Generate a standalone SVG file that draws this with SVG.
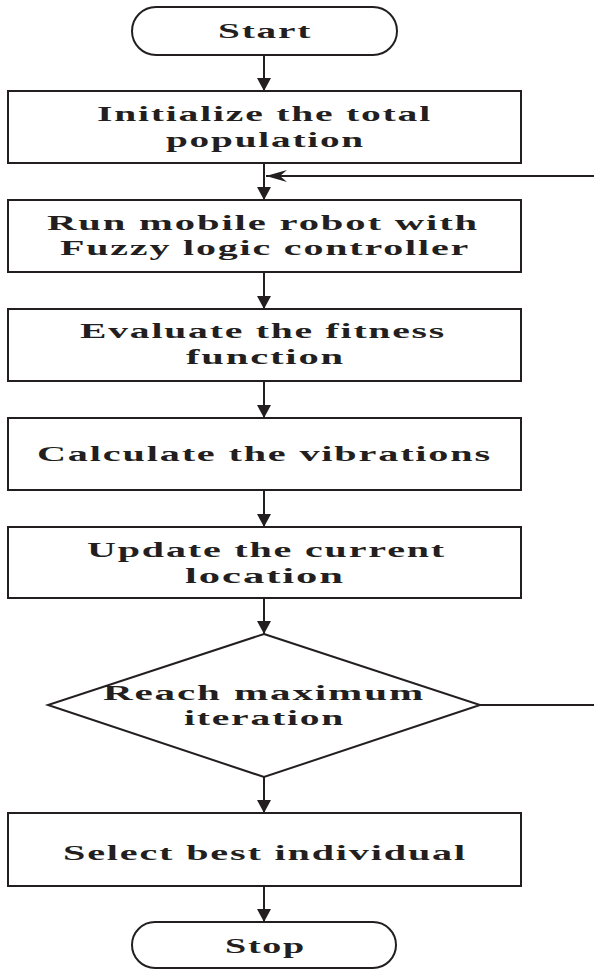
<svg xmlns="http://www.w3.org/2000/svg" width="594" height="971" viewBox="0 0 594 971">
<style>
.shape{fill:#fff;stroke:#231f20;stroke-width:2}
.line{fill:none;stroke:#231f20;stroke-width:2}
.t{font-family:"Liberation Serif","Times New Roman",serif;font-weight:bold;font-size:22px;fill:#231f20;letter-spacing:1px}
</style>
<defs>
<marker id="ah" markerWidth="16" markerHeight="14" refX="13" refY="7" orient="auto" markerUnits="userSpaceOnUse">
<path d="M0,0 L13,7 L0,14 Z" fill="#231f20"/>
</marker>
<marker id="ahs" markerWidth="22" markerHeight="12" refX="21" refY="6" orient="auto" markerUnits="userSpaceOnUse">
<path d="M0,6 L21,0 L14,6 L21,12 Z" fill="#231f20" transform="rotate(180 10.5 6)"/>
</marker>
</defs>
<g id="connectors">
<line class="line" x1="264" y1="55" x2="264" y2="91" marker-end="url(#ah)"/>
<line class="line" x1="264" y1="163" x2="264" y2="200" marker-end="url(#ah)"/>
<line class="line" x1="264" y1="272" x2="264" y2="309" marker-end="url(#ah)"/>
<line class="line" x1="264" y1="381" x2="264" y2="418" marker-end="url(#ah)"/>
<line class="line" x1="264" y1="490" x2="264" y2="527" marker-end="url(#ah)"/>
<line class="line" x1="264" y1="598" x2="264" y2="634" marker-end="url(#ah)"/>
<line class="line" x1="264" y1="777" x2="264" y2="813" marker-end="url(#ah)"/>
<line class="line" x1="264" y1="886" x2="264" y2="922" marker-end="url(#ah)"/>
<line class="line" x1="480" y1="705" x2="594" y2="705"/>
<line class="line" x1="594" y1="176" x2="266" y2="176" marker-end="url(#ahs)"/>
</g>
<g id="start">
<rect class="shape" x="132" y="7" width="265" height="48" rx="24" ry="24"/>
<text class="t" x="218" y="38" textLength="94" lengthAdjust="spacingAndGlyphs">Start</text>
</g>
<g id="init">
<rect class="shape" x="8" y="91" width="513" height="72"/>
<text class="t" x="97" y="121" textLength="335" lengthAdjust="spacingAndGlyphs">Initialize the total</text>
<text class="t" x="166" y="147" textLength="199" lengthAdjust="spacingAndGlyphs">population</text>
</g>
<g id="run">
<rect class="shape" x="8" y="200" width="513" height="72"/>
<text class="t" x="47" y="230" textLength="432" lengthAdjust="spacingAndGlyphs">Run mobile robot with</text>
<text class="t" x="60" y="255" textLength="410" lengthAdjust="spacingAndGlyphs">Fuzzy logic controller</text>
</g>
<g id="evaluate">
<rect class="shape" x="8" y="309" width="513" height="72"/>
<text class="t" x="80" y="338" textLength="366" lengthAdjust="spacingAndGlyphs">Evaluate the fitness</text>
<text class="t" x="186" y="364" textLength="159" lengthAdjust="spacingAndGlyphs">function</text>
</g>
<g id="calculate">
<rect class="shape" x="8" y="418" width="513" height="72"/>
<text class="t" x="37" y="461" textLength="455" lengthAdjust="spacingAndGlyphs">Calculate the vibrations</text>
</g>
<g id="update">
<rect class="shape" x="8" y="527" width="513" height="71"/>
<text class="t" x="87" y="557" textLength="359" lengthAdjust="spacingAndGlyphs">Update the current</text>
<text class="t" x="185" y="583" textLength="160" lengthAdjust="spacingAndGlyphs">location</text>
</g>
<g id="decision">
<polygon class="shape" points="264,634 480,705 264,777 48,705"/>
<text class="t" x="103" y="700" textLength="322" lengthAdjust="spacingAndGlyphs">Reach maximum</text>
<text class="t" x="184" y="725" textLength="161" lengthAdjust="spacingAndGlyphs">iteration</text>
</g>
<g id="select">
<rect class="shape" x="8" y="813" width="513" height="73"/>
<text class="t" x="63" y="860" textLength="404" lengthAdjust="spacingAndGlyphs">Select best individual</text>
</g>
<g id="stop">
<rect class="shape" x="132" y="922" width="264" height="46" rx="23" ry="23"/>
<text class="t" x="225" y="953" textLength="81" lengthAdjust="spacingAndGlyphs">Stop</text>
</g>
</svg>
